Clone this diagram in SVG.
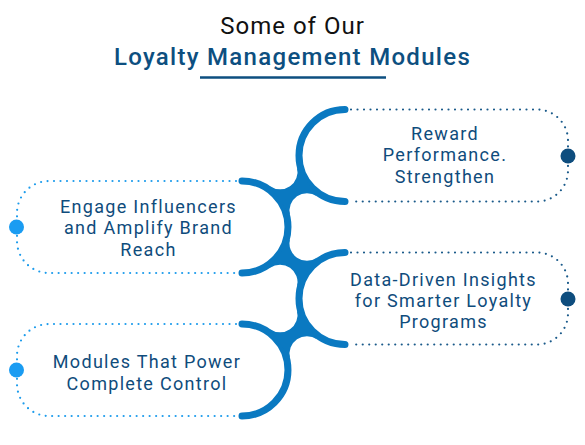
<svg xmlns="http://www.w3.org/2000/svg" xmlns:xlink="http://www.w3.org/1999/xlink" width="585" height="445" viewBox="0 0 585 445">
<style>
.t1{font-family:Roboto,"Liberation Sans",sans-serif;font-size:24px;font-weight:400;fill:#111;text-anchor:middle;letter-spacing:1px}
.t2{font-family:Roboto,"Liberation Sans",sans-serif;font-size:24px;font-weight:500;fill:#0d4f80;text-anchor:middle;letter-spacing:1.3px}
.lbl{font-family:Roboto,"Liberation Sans",sans-serif;font-size:18px;font-weight:400;fill:#0f4c7c;text-anchor:middle;letter-spacing:1.3px}
.cap{fill:none;stroke:#0a79c1;stroke-width:7;stroke-linecap:round}
.br{fill:#0a79c1}
.dl{fill:none;stroke:#1d9cec;stroke-width:2.2;stroke-linecap:round;stroke-dasharray:0 6.5}
.dr{fill:none;stroke:#1a5a8a;stroke-width:2.2;stroke-linecap:round;stroke-dasharray:0 6.5}
.pl{fill:#1a9cf2}
.pr{fill:#0e4d7e}
</style>
<defs>
<path id="bridge" d="M28.1,-40.74 A17.5,17.5 0 0 0 55,-59.41 L74.9,-30.76 A17.5,17.5 0 0 0 48,-12.1 Z"/>
</defs>
<rect width="585" height="445" fill="#fff"/>
<g id="title">
<text class="t1" x="292.5" y="34">Some of Our</text>
<text class="t2" x="292.5" y="65">Loyalty Management Modules</text>
<line x1="200" y1="77.5" x2="386" y2="77.5" stroke="#0d4f80" stroke-width="2.5"/>
</g>
<g id="connectors">
<path class="cap" d="M345,109.5 A46,46 0 0 0 345,201.5"/>
<path class="cap" d="M242,181 A46,46 0 0 1 242,273"/>
<path class="cap" d="M345,252.5 A46,46 0 0 0 345,344.5"/>
<path class="cap" d="M242,324 A46,46 0 0 1 242,416"/>
<use xlink:href="#bridge" class="br" transform="translate(242,227)"/>
<use xlink:href="#bridge" class="br" transform="translate(242,227) scale(1,-1)"/>
<use xlink:href="#bridge" class="br" transform="translate(242,370)"/>
</g>
<g id="node-reward">
<path class="dr" d="M351,109.5 H537 A31,31 0 0 1 568,140.5 V170.5 A31,31 0 0 1 537,201.5 H351"/>
<circle class="pr" cx="568" cy="156" r="7.5"/>
<text class="lbl" x="445" y="139.5">Reward</text>
<text class="lbl" x="445" y="161">Performance.</text>
<text class="lbl" x="445" y="182.5">Strengthen</text>
</g>
<g id="node-engage">
<path class="dl" d="M236,181 H49 A32,32 0 0 0 17,213 V241 A32,32 0 0 0 49,273 H236"/>
<circle class="pl" cx="16.5" cy="227" r="7.5"/>
<text class="lbl" x="148.5" y="212.7">Engage Influencers</text>
<text class="lbl" x="148.5" y="234.2">and Amplify Brand</text>
<text class="lbl" x="148.5" y="255.7">Reach</text>
</g>
<g id="node-data">
<path class="dr" d="M351,252.5 H537 A31,31 0 0 1 568,283.5 V313.5 A31,31 0 0 1 537,344.5 H351"/>
<circle class="pr" cx="568" cy="299" r="7.5"/>
<text class="lbl" x="443.5" y="285.7">Data-Driven Insights</text>
<text class="lbl" x="443.5" y="306.7">for Smarter Loyalty</text>
<text class="lbl" x="443.5" y="327.7">Programs</text>
</g>
<g id="node-modules">
<path class="dl" d="M236,324 H49 A32,32 0 0 0 17,356 V384 A32,32 0 0 0 49,416 H236"/>
<circle class="pl" cx="16.5" cy="370" r="7.5"/>
<text class="lbl" x="147" y="368.3">Modules That Power</text>
<text class="lbl" x="147" y="390">Complete Control</text>
</g>
</svg>
